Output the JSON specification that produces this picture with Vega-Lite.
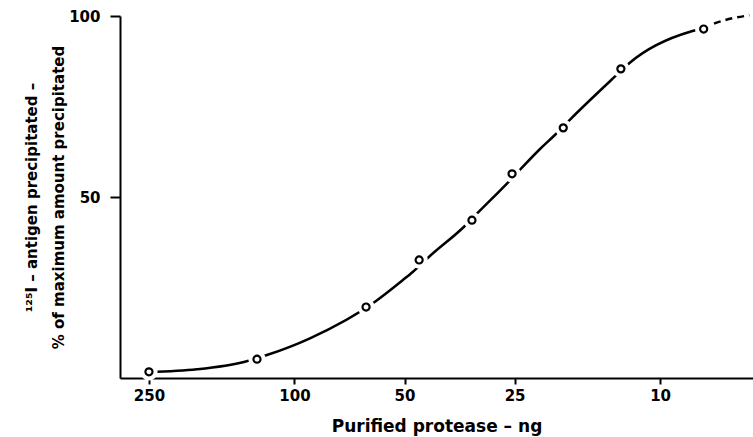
{
  "$schema": "https://vega.github.io/schema/vega-lite/v6.json",
  "width": 633,
  "height": 362,
  "autosize": {"type": "none"},
  "padding": {"left": 120, "top": 16, "right": 0, "bottom": 59},
  "background": "white",
  "config": {
    "view": {"stroke": null},
    "font": "DejaVu Sans",
    "axis": {
      "grid": false,
      "domainColor": "black",
      "domainWidth": 2,
      "tickColor": "black",
      "tickWidth": 2,
      "labelColor": "black",
      "titleColor": "black",
      "labelFont": "DejaVu Sans",
      "titleFont": "DejaVu Sans",
      "labelFontWeight": "bold",
      "titleFontWeight": "bold",
      "labelFontSize": 15,
      "titleFontSize": 15,
      "labelFlush": false
    }
  },
  "datasets": {
    "pts": [
      {"ng": 250, "pct": 1.7},
      {"ng": 126.6, "pct": 5.2},
      {"ng": 63.7, "pct": 19.6},
      {"ng": 45.6, "pct": 32.6},
      {"ng": 32.7, "pct": 43.6},
      {"ng": 25.4, "pct": 56.4},
      {"ng": 18.4, "pct": 69.1},
      {"ng": 12.8, "pct": 85.4},
      {"ng": 7.6, "pct": 96.4}
    ],
    "curve": [
      {"ng": 250, "pct": 1.6},
      {"ng": 184.8, "pct": 2.4},
      {"ng": 136.6, "pct": 4.5},
      {"ng": 118.9, "pct": 6.35},
      {"ng": 90.7, "pct": 10.97},
      {"ng": 60.2, "pct": 21.08},
      {"ng": 50.5, "pct": 27.07},
      {"ng": 47.4, "pct": 29.36},
      {"ng": 42.6, "pct": 33.7},
      {"ng": 34.2, "pct": 41.99},
      {"ng": 31.3, "pct": 45.94},
      {"ng": 26.2, "pct": 53.78},
      {"ng": 24.2, "pct": 57.46},
      {"ng": 21.3, "pct": 63.26},
      {"ng": 19.4, "pct": 67.13},
      {"ng": 17.6, "pct": 71.47},
      {"ng": 13.3, "pct": 83.23},
      {"ng": 12.1, "pct": 87.1},
      {"ng": 8.28, "pct": 95.66},
      {"ng": 7.63, "pct": 96.55}
    ],
    "dash": [
      {"ng": 7.63, "pct": 96.55},
      {"ng": 7.16, "pct": 97.79},
      {"ng": 5.7, "pct": 100.2}
    ]
  },
  "encoding": {
    "x": {
      "field": "ng",
      "type": "quantitative",
      "scale": {"type": "log", "domain": [5.57, 300], "reverse": true, "nice": false},
      "axis": {
        "values": [250, 100, 50, 25, 10],
        "format": "d",
        "tickSize": 6,
        "labelPadding": 4,
        "title": "Purified protease  –  ng",
        "titleFontSize": 17,
        "titlePadding": 15
      }
    },
    "y": {
      "field": "pct",
      "type": "quantitative",
      "scale": {"domain": [0, 100], "nice": false},
      "axis": {
        "values": [50, 100],
        "tickSize": 10,
        "labelPadding": 10,
        "title": ["¹²⁵I – antigen precipitated –", "% of maximum amount precipitated"],
        "titlePadding": 2,
        "titleLineHeight": 27
      }
    }
  },
  "layer": [
    {
      "data": {"name": "curve"},
      "mark": {"type": "line", "interpolate": "monotone", "color": "black", "strokeWidth": 2.5},
      "encoding": {"order": {"field": "ng", "sort": "descending"}}
    },
    {
      "data": {"name": "dash"},
      "mark": {"type": "line", "interpolate": "monotone", "color": "black", "strokeWidth": 2.5, "strokeDash": [7, 5]},
      "encoding": {"order": {"field": "ng", "sort": "descending"}}
    },
    {
      "data": {"name": "pts"},
      "mark": {"type": "point", "shape": "circle", "filled": true, "color": "white", "opacity": 1, "size": 300}
    },
    {
      "data": {"name": "pts"},
      "mark": {"type": "point", "shape": "circle", "filled": false, "stroke": "black", "opacity": 1, "strokeWidth": 2.2, "size": 50}
    }
  ]
}
